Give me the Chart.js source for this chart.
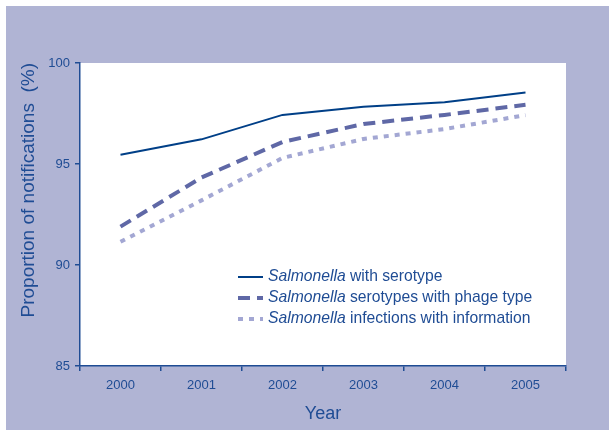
<!DOCTYPE html>
<html>
<head>
<meta charset="utf-8">
<script src="https://cdn.jsdelivr.net/npm/chart.js@4/dist/chart.umd.min.js"></script>
<style>
  html, body { margin: 0; padding: 0; background: #ffffff; }
  #wrap { width: 609px; height: 430px; position: relative; }
</style>
</head>
<body>
<div id="wrap"><canvas id="chart" width="609" height="430"></canvas></div>
<script>
// data
const years = ['2000', '2001', '2002', '2003', '2004', '2005'];
const withSerotype = [95.46, 96.22, 97.43, 97.84, 98.06, 98.54];
const withPhageType = [91.9, 94.33, 96.09, 96.98, 97.43, 97.93];
const withInformation = [91.15, 93.2, 95.3, 96.24, 96.73, 97.42];
const yTicks = [85, 90, 95, 100];

const navy = '#1f4c94';
const bgColor = '#b0b4d4';
const fontFamily = '"Liberation Sans", Arial, sans-serif';

const series = [
  { label: 'with serotype', data: withSerotype, color: '#003f87', width: 2, dash: [] },
  { label: 'serotypes with phage type', data: withPhageType, color: '#5f68a6', width: 4, dash: [12, 7] },
  { label: 'infections with information', data: withInformation, color: '#a3a7d3', width: 4, dash: [5, 6] }
];

// lavender frame + white plot area
const backdrop = {
  id: 'backdrop',
  beforeDraw(chart) {
    const { ctx, chartArea } = chart;
    ctx.save();
    ctx.fillStyle = '#ffffff';
    ctx.fillRect(0, 0, chart.width, chart.height);
    ctx.fillStyle = bgColor;
    ctx.fillRect(6, 6, chart.width - 6, chart.height - 6);
    ctx.fillStyle = '#ffffff';
    ctx.fillRect(chartArea.left, chartArea.top, chartArea.right - chartArea.left, chartArea.bottom - chartArea.top);
    ctx.restore();
  }
};

// legend with italic genus name, inside the plot
const mixedLegend = {
  id: 'mixedLegend',
  afterDraw(chart) {
    const ctx = chart.ctx;
    const x0 = 238, x1 = 263, tx = 268;
    const rows = [277, 298, 319];
    ctx.save();
    series.forEach((s, i) => {
      const y = rows[i];
      ctx.beginPath();
      ctx.strokeStyle = s.color;
      ctx.lineWidth = s.width;
      ctx.setLineDash(s.dash);
      ctx.moveTo(x0, y);
      ctx.lineTo(x1, y);
      ctx.stroke();
      ctx.setLineDash([]);
      ctx.fillStyle = navy;
      ctx.textBaseline = 'middle';
      ctx.textAlign = 'left';
      ctx.font = 'italic 15.7px ' + fontFamily;
      ctx.fillText('Salmonella', tx, y);
      const w = ctx.measureText('Salmonella ').width;
      ctx.font = '15.7px ' + fontFamily;
      ctx.fillText(s.label, tx + w, y);
    });
    ctx.restore();
  }
};

new Chart(document.getElementById('chart'), {
  type: 'line',
  data: {
    labels: years,
    datasets: series.map(s => ({
      label: 'Salmonella ' + s.label,
      data: s.data,
      borderColor: s.color,
      borderWidth: s.width,
      borderDash: s.dash,
      borderCapStyle: 'butt',
      backgroundColor: 'transparent',
      tension: 0,
      pointRadius: 0,
      fill: false
    }))
  },
  options: {
    responsive: false,
    animation: false,
    layout: { padding: { top: 63, right: 43, left: 0, bottom: 0 } },
    plugins: {
      legend: { display: false },
      tooltip: { enabled: false }
    },
    scales: {
      x: {
        offset: true,
        grid: { offset: true, drawOnChartArea: false, drawTicks: true, tickLength: 5, color: navy, lineWidth: 1.5 },
        border: { color: navy, width: 1.5 },
        ticks: { color: navy, font: { family: fontFamily, size: 13 }, padding: 7, maxRotation: 0 },
        title: {
          display: true,
          text: 'Year',
          color: navy,
          font: { family: fontFamily, size: 18 },
          padding: { top: 0, bottom: 5 }
        },
        afterFit(scale) { scale.height = 64; }
      },
      y: {
        min: 85,
        max: 100,
        afterBuildTicks(scale) { scale.ticks = yTicks.map(v => ({ value: v })); },
        grid: { drawOnChartArea: false, drawTicks: true, tickLength: 5, color: navy, lineWidth: 1.5 },
        border: { color: navy, width: 1.5 },
        ticks: { color: navy, font: { family: fontFamily, size: 13 }, padding: 5 },
        title: {
          display: true,
          text: 'Proportion of notifications  (%)',
          align: 'end',
          color: navy,
          font: { family: fontFamily, size: 19 },
          padding: { top: 17, bottom: 0 }
        },
        afterFit(scale) { scale.width = 80; }
      }
    }
  },
  plugins: [backdrop, mixedLegend]
});
</script>
</body>
</html>
